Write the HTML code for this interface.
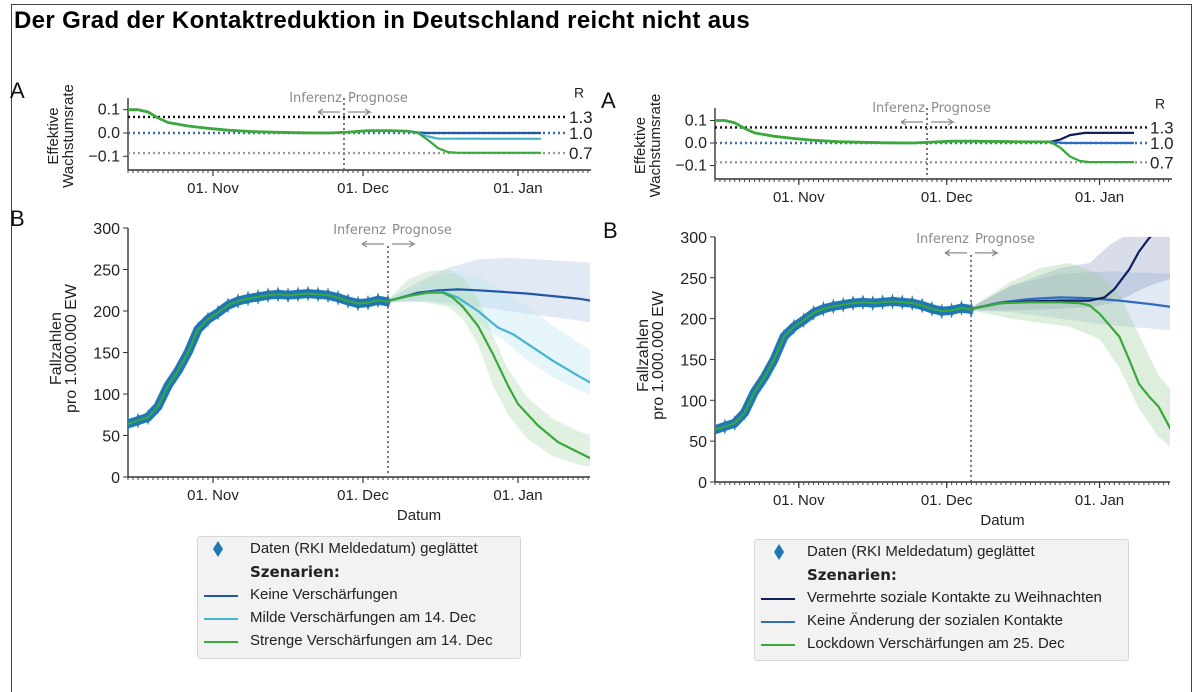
<!DOCTYPE html>
<html><head><meta charset="utf-8">
<style>
html,body{margin:0;background:#fff;width:1200px;height:692px;overflow:hidden;font-family:"Liberation Sans",sans-serif;}
#frame{position:absolute;left:11px;top:4px;width:1181px;height:688px;border:1px solid #444;border-bottom:none;box-sizing:border-box;}
#title{position:absolute;left:14px;top:7px;font-size:24px;font-weight:bold;color:#000;font-family:"Liberation Sans",sans-serif;letter-spacing:0.35px;}
svg{position:absolute;left:0;top:0;}
.legend{position:absolute;background:#f2f2f2;border:1px solid #d6d6d6;border-radius:3px;font-size:15px;color:#222;}
.row{position:absolute;white-space:nowrap;}
.sw{position:absolute;height:2px;width:34px;}
.dia{position:absolute;width:10px;height:16px;background:#1f77b4;clip-path:polygon(50% 0,100% 50%,50% 100%,0 50%);}
</style></head>
<body>
<div id="frame"></div>
<div id="title">Der Grad der Kontaktreduktion in Deutschland reicht nicht aus</div>
<svg id="chart" width="1200" height="692"></svg>

<div class="legend" style="left:197px;top:536px;width:322px;height:121px">
 <div class="dia" style="left:15px;top:4px"></div>
 <div class="row" style="left:52px;top:3px">Daten (RKI Meldedatum) geglättet</div>
 <div class="row" style="left:52px;top:26px;font-weight:bold;font-family:'DejaVu Sans',sans-serif;font-size:15px">Szenarien:</div>
 <div class="sw" style="left:6px;top:58px;background:#2556a4"></div>
 <div class="row" style="left:52px;top:49px">Keine Verschärfungen</div>
 <div class="sw" style="left:6px;top:81px;background:#45b5cc"></div>
 <div class="row" style="left:52px;top:72px">Milde Verschärfungen am 14. Dec</div>
 <div class="sw" style="left:6px;top:104px;background:#3aa83a"></div>
 <div class="row" style="left:52px;top:95px">Strenge Verschärfungen am 14. Dec</div>
</div>

<div class="legend" style="left:754px;top:539px;width:373px;height:120px">
 <div class="dia" style="left:19px;top:4px"></div>
 <div class="row" style="left:52px;top:3px">Daten (RKI Meldedatum) geglättet</div>
 <div class="row" style="left:52px;top:26px;font-weight:bold;font-family:'DejaVu Sans',sans-serif;font-size:15px">Szenarien:</div>
 <div class="sw" style="left:6px;top:58px;background:#0d1f5c"></div>
 <div class="row" style="left:52px;top:49px">Vermehrte soziale Kontakte zu Weihnachten</div>
 <div class="sw" style="left:6px;top:81px;background:#2f6bc0"></div>
 <div class="row" style="left:52px;top:72px">Keine Änderung der sozialen Kontakte</div>
 <div class="sw" style="left:6px;top:104px;background:#3aa83a"></div>
 <div class="row" style="left:52px;top:95px">Lockdown Verschärfungen am 25. Dec</div>
</div>

<script>
// ---- data (days since 15. Oct) ----
const dataDays = [0,2,4,6,8,10,12,14,16,18,20,22,24,26,28,30,32,34,36,38,40,42,44,46,48,50,52];
const dataVals = [64,68,72,85,110,128,150,178,190,198,207,212,215,217,219,220,219,220,221,220,219,216,212,209,210,213,211];
const dateTickDays = [17,47,78];
const dateTickLabels = ["01. Nov","01. Dec","01. Jan"];
const caseTicks = [0,50,100,150,200,250,300];
const rateTicks = [0.1,0.0,-0.1];
const rateTickLabels = ["0.1","0.0","\u22120.1"];
const rLevels = [0.069,0,-0.086];
const rLabels = ["1.3","1.0","0.7"];

// Left panel A (growth rate)
const LA_commonDays = [0,2,4,6,8,12,16,20,25,30,35,40,44,48,52,56];
const LA_commonVals = [0.1,0.1,0.09,0.065,0.045,0.03,0.02,0.012,0.006,0.003,0.001,0.0,0.004,0.01,0.01,0.008];
const LA_keineDays = [56,58,60,82.6];
const LA_keineVals = [0.008,0.002,0,0];
const LA_mildeDays = [56,58,60,62,82.6];
const LA_mildeVals = [0.008,0,-0.015,-0.024,-0.025];
const LA_strengeDays = [56,58,60,62,64,66,82.6];
const LA_strengeVals = [0.008,0,-0.03,-0.065,-0.082,-0.085,-0.085];

// Left panel B (cases)
const LB_keineDays = [52,55,58,62,66,70,75,80,85,90,93];
const LB_keineVals = [212,217,222,225,226,225,223,221,218,215,212];
const LB_mildeDays = [52,56,60,63,66,70,74,77,80,85,90,93];
const LB_mildeVals = [212,218,222,223,216,200,180,172,160,140,122,112];
const LB_strengeDays = [52,56,60,63,65,67,70,73,76,78,82,86,90,93];
const LB_strengeVals = [212,218,222,222,216,205,182,148,110,88,62,42,30,21];
const LB_keineBandDays = [52,58,64,70,76,82,88,93];
const LB_keineBandHi = [214,235,252,262,264,262,260,258];
const LB_keineBandLo = [210,212,210,205,200,195,190,186];
const LB_mildeBandDays = [52,60,66,70,75,80,85,90,93];
const LB_mildeBandHi = [214,238,248,242,225,205,182,162,152];
const LB_mildeBandLo = [210,212,205,185,165,140,120,105,98];
const LB_strengeBandDays = [52,56,60,64,67,70,73,76,80,85,90,93];
const LB_strengeBandHi = [214,238,248,250,240,215,170,130,95,70,55,50];
const LB_strengeBandLo = [210,212,210,205,190,160,110,75,45,25,15,12];

// Right panel A
const RA_commonDays = [0,2,4,6,8,12,16,20,25,30,35,40,44,48,52,60,68];
const RA_commonVals = [0.1,0.1,0.09,0.065,0.045,0.03,0.02,0.012,0.006,0.003,0.001,0.0,0.004,0.008,0.008,0.006,0.005];
const RA_vermDays = [68,70,72,75,85];
const RA_vermVals = [0.005,0.015,0.035,0.045,0.045];
const RA_keineDays = [68,71,85];
const RA_keineVals = [0.005,0,0];
const RA_lockDays = [68,70,72,74,76,85];
const RA_lockVals = [0.005,-0.02,-0.06,-0.08,-0.085,-0.085];

// Right panel B
const RB_vermDays = [52,58,64,70,76,79,81,84,86,88,89];
const RB_vermVals = [212,219,221,222,222,226,236,260,282,298,305];
const RB_keineDays = [52,58,64,70,76,82,88,93];
const RB_keineVals = [212,220,224,226,225,222,218,214];
const RB_lockDays = [52,58,64,70,74,76,78,80,82,84,86,88,90,93];
const RB_lockVals = [212,219,220,220,219,216,206,192,178,150,120,105,92,58];
const RB_keineBandDays = [52,60,70,80,88,93];
const RB_keineBandHi = [214,240,255,258,256,255];
const RB_keineBandLo = [210,208,200,192,188,185];
const RB_vermBandDays = [52,60,70,76,80,84,88,93];
const RB_vermBandHi = [214,240,262,268,290,305,305,305];
const RB_vermBandLo = [210,210,212,214,218,228,240,250];
const RB_lockBandDays = [52,60,66,72,78,82,86,90,93];
const RB_lockBandHi = [214,245,262,268,255,230,180,130,110];
const RB_lockBandLo = [210,200,195,190,175,140,90,55,40];

const NS = "http://www.w3.org/2000/svg";
const svg = document.getElementById("chart");
function mk(tag, attrs, parent){
  const e = document.createElementNS(NS, tag);
  for (const k in attrs) e.setAttribute(k, attrs[k]);
  (parent||svg).appendChild(e);
  return e;
}
function txt(x,y,s,attrs,parent){
  const t = mk("text", Object.assign({x:x,y:y,"font-family":"Liberation Sans, sans-serif","font-size":15,fill:"#222"},attrs||{}),parent);
  t.textContent = s; return t;
}
function xScale(p){ return d => p.x0 + d*p.pxDay; }
function yScale(p){ return v => p.yBase - (v - p.vMin)*p.pxUnit; }
function linePath(xs, ys, days, vals){
  return days.map((d,i)=>(i?"L":"M")+xs(d).toFixed(1)+","+ys(vals[i]).toFixed(1)).join(" ");
}
function bandPath(xs, ys, days, hi, lo){
  let s = days.map((d,i)=>(i?"L":"M")+xs(d).toFixed(1)+","+ys(hi[i]).toFixed(1)).join(" ");
  for (let i=days.length-1;i>=0;i--) s += " L"+xs(days[i]).toFixed(1)+","+ys(lo[i]).toFixed(1);
  return s+" Z";
}
function xAxis(p, xs, g){
  const ax = mk("line",{x1:p.x0,y1:p.yAxis,x2:p.x1,y2:p.yAxis,stroke:"#333","stroke-width":1.4},g);
  
  
  for (let d=0; xs(d)<=p.x1; d++){
    mk("line",{x1:xs(d),y1:p.yAxis,x2:xs(d),y2:p.yAxis+3,stroke:"#444","stroke-width":1},g);
  }
  dateTickDays.forEach((d,i)=>{
    mk("line",{x1:xs(d),y1:p.yAxis,x2:xs(d),y2:p.yAxis+6,stroke:"#333","stroke-width":1.2},g);
    const t = txt(xs(d),p.yAxis+23,dateTickLabels[i],{"text-anchor":"middle"},g);
    
    
  });
}
function inferenz(x, y, g){
  const t = txt(x-2,y,"Inferenz",{"text-anchor":"end","font-size":13,fill:"#8a8a8a","font-family":"DejaVu Sans, sans-serif"},g);
  
  
  const t2 = txt(x+4,y,"Prognose",{"font-size":13,fill:"#8a8a8a","font-family":"DejaVu Sans, sans-serif"},g);
  
  
  mk("path",{d:`M${x-4},${y+10} L${x-26},${y+10} M${x-26},${y+10} l5,-3 M${x-26},${y+10} l5,3 M${x+4},${y+10} L${x+26},${y+10} l-5,-3 M${x+26},${y+10} l-5,3`,stroke:"#8a8a8a","stroke-width":1.3,fill:"none"},g);
}
function line(g, xs, ys, days, vals, color, name, w){
  const e = mk("path",{d:linePath(xs,ys,days,vals),stroke:color,"stroke-width":w||2.2,fill:"none","stroke-linejoin":"round"},g);
  
  
}
function band(g, xs, ys, days, hi, lo, color, op, name){
  const e = mk("path",{d:bandPath(xs,ys,days,hi,lo),fill:color,"fill-opacity":op,stroke:"none"},g);
  
  
}

function panelA(p, commonD, commonV, series, id){
  const g = mk("g",{});
  
  
  const xs = xScale(p), ys = yScale(p);
  const clip = mk("clipPath",{id:"cA"+id},g);
  mk("rect",{x:p.x0,y:p.yTop-10,width:p.x1-p.x0,height:p.yAxis-p.yTop+10},clip);
  mk("line",{x1:p.x0,y1:p.yTop,x2:p.x0,y2:p.yAxis,stroke:"#333","stroke-width":1.4},g);
  rateTicks.forEach((v,i)=>{
    mk("line",{x1:p.x0-5,y1:ys(v),x2:p.x0,y2:ys(v),stroke:"#333"},g);
    const t = txt(p.x0-8,ys(v)+5,rateTickLabels[i],{"text-anchor":"end","font-size":16},g);
    
    
  });
  xAxis(p, xs, g);
  const cols = ["#111","#3b6fb0","#999"];
  rLevels.forEach((v,i)=>{
    mk("line",{x1:p.x0,y1:ys(v),x2:p.x1-24,y2:ys(v),stroke:cols[i],"stroke-width":2.4,"stroke-dasharray":"2,3"},g);
    const t = txt(p.x1-22,ys(v)+6,rLabels[i],{"font-size":17},g);
    
    
  });
  const rl = txt(p.x1-17,ys(0.1)-12,"R",{"font-size":14},g);
  
  
  mk("line",{x1:p.xSplit,y1:p.yTop,x2:p.xSplit,y2:p.yAxis,stroke:"#777","stroke-width":2,"stroke-dasharray":"2,3"},g);
  inferenz(p.xSplit, p.yTop+4, g);
  const gc = mk("g",{"clip-path":`url(#cA${id})`},g);
  series.forEach(s=>line(gc,xs,ys,s.d,s.v,s.c,s.n));
  line(gc,xs,ys,commonD,commonV,"#3aa83a","rate-line-common",2.8);
  const yt = txt(0,0,"Effektive",{"text-anchor":"middle","font-size":15,transform:`translate(${p.x0-70},${(p.yTop+p.yAxis)/2+2}) rotate(-90)`},g);
  
  
  const yt2 = txt(0,0,"Wachstumsrate",{"text-anchor":"middle","font-size":15,transform:`translate(${p.x0-55},${(p.yTop+p.yAxis)/2+2}) rotate(-90)`},g);
  
  
}

function panelB(p, bands, series, id){
  const g = mk("g",{});
  
  
  const xs = xScale(p), ys = yScale(p);
  const clip = mk("clipPath",{id:"cB"+id},g);
  mk("rect",{x:p.x0,y:ys(300),width:p.x1-p.x0,height:p.yAxis-ys(300)},clip);
  mk("line",{x1:p.x0,y1:ys(300),x2:p.x0,y2:p.yAxis,stroke:"#333","stroke-width":1.4},g);
  caseTicks.forEach(v=>{
    mk("line",{x1:p.x0-5,y1:ys(v),x2:p.x0,y2:ys(v),stroke:"#333"},g);
    const t = txt(p.x0-8,ys(v)+6,String(v),{"text-anchor":"end","font-size":16},g);
    
    
  });
  xAxis(p, xs, g);
  const dl = txt((p.x0+p.x1)/2+60,p.yAxis+43,"Datum",{"text-anchor":"middle"},g);
  
  
  const gc = mk("g",{"clip-path":`url(#cB${id})`},g);
  bands.forEach(b=>band(gc,xs,ys,b.d,b.hi,b.lo,b.c,b.o,b.n));
  const dp = mk("path",{d:linePath(xs,ys,dataDays,dataVals),stroke:"#1f77b4","stroke-width":9,fill:"none","stroke-linejoin":"round"},gc);
  
  
  dataDays.forEach((d,i)=>{
    const m = mk("path",{d:`M${xs(d)},${ys(dataVals[i])-8} l2.5,8 l-2.5,8 l-2.5,-8 Z`,fill:"#1f77b4"},gc);
    
    
  });
  line(gc,xs,ys,dataDays,dataVals,"#3aa83a","fit-line",2);
  series.forEach(s=>line(gc,xs,ys,s.d,s.v,s.c,s.n));
  mk("line",{x1:p.xSplit,y1:ys(300)+18,x2:p.xSplit,y2:p.yAxis,stroke:"#777","stroke-width":2,"stroke-dasharray":"2,3"},g);
  inferenz(p.xSplit, ys(300)+6, g);
  const t1 = txt(0,0,"Fallzahlen",{"text-anchor":"middle","font-size":16,transform:`translate(${p.x0-67},${(ys(300)+p.yAxis)/2-4}) rotate(-90)`},g);
  
  
  const t2 = txt(0,0,"pro 1.000.000 EW",{"text-anchor":"middle","font-size":16,transform:`translate(${p.x0-52},${(ys(300)+p.yAxis)/2-4}) rotate(-90)`},g);
  
  
}

[["A",10,98],["B",10,226],["A",601,108],["B",603,238]].forEach(a=>{
  const t = txt(a[1],a[2],a[0],{"font-size":22,fill:"#111"});
  
  
});

panelA({x0:128,x1:591,pxDay:5.0,yBase:133,vMin:0,pxUnit:233,yTop:98,yAxis:170,xSplit:344},
  LA_commonDays, LA_commonVals,
  [{d:LA_keineDays,v:LA_keineVals,c:"#2556a4",n:"rate-keine"},
   {d:LA_mildeDays,v:LA_mildeVals,c:"#45b5cc",n:"rate-milde"},
   {d:LA_strengeDays,v:LA_strengeVals,c:"#3aa83a",n:"rate-strenge"}],"left");

panelB({x0:128,x1:590,pxDay:5.0,yBase:477,vMin:0,pxUnit:0.83,yAxis:477,xSplit:388},
  [{d:LB_keineBandDays,hi:LB_keineBandHi,lo:LB_keineBandLo,c:"#9db6da",o:0.3,n:"band-keine"},
   {d:LB_mildeBandDays,hi:LB_mildeBandHi,lo:LB_mildeBandLo,c:"#bfe6ef",o:0.4,n:"band-milde"},
   {d:LB_strengeBandDays,hi:LB_strengeBandHi,lo:LB_strengeBandLo,c:"#a8d8a8",o:0.35,n:"band-strenge"}],
  [{d:LB_keineDays,v:LB_keineVals,c:"#2556a4",n:"line-keine"},
   {d:LB_mildeDays,v:LB_mildeVals,c:"#45b5cc",n:"line-milde"},
   {d:LB_strengeDays,v:LB_strengeVals,c:"#3aa83a",n:"line-strenge"}],"left");

panelA({x0:715,x1:1172,pxDay:4.93,yBase:143,vMin:0,pxUnit:225,yTop:108,yAxis:179,xSplit:927},
  RA_commonDays, RA_commonVals,
  [{d:RA_vermDays,v:RA_vermVals,c:"#0d1f5c",n:"rate-vermehrte"},
   {d:RA_keineDays,v:RA_keineVals,c:"#2f6bc0",n:"rate-keine-aenderung"},
   {d:RA_lockDays,v:RA_lockVals,c:"#3aa83a",n:"rate-lockdown"}],"right");

panelB({x0:715,x1:1170,pxDay:4.93,yBase:482,vMin:0,pxUnit:0.817,yAxis:482,xSplit:971},
  [{d:RB_keineBandDays,hi:RB_keineBandHi,lo:RB_keineBandLo,c:"#9db6da",o:0.3,n:"band-keine-aenderung"},
   {d:RB_vermBandDays,hi:RB_vermBandHi,lo:RB_vermBandLo,c:"#7f8fb5",o:0.3,n:"band-vermehrte"},
   {d:RB_lockBandDays,hi:RB_lockBandHi,lo:RB_lockBandLo,c:"#9fcf9f",o:0.35,n:"band-lockdown"}],
  [{d:RB_keineDays,v:RB_keineVals,c:"#2f6bc0",n:"line-keine-aenderung"},
   {d:RB_vermDays,v:RB_vermVals,c:"#0d1f5c",n:"line-vermehrte"},
   {d:RB_lockDays,v:RB_lockVals,c:"#3aa83a",n:"line-lockdown"}],"right");
</script>
</body></html>
